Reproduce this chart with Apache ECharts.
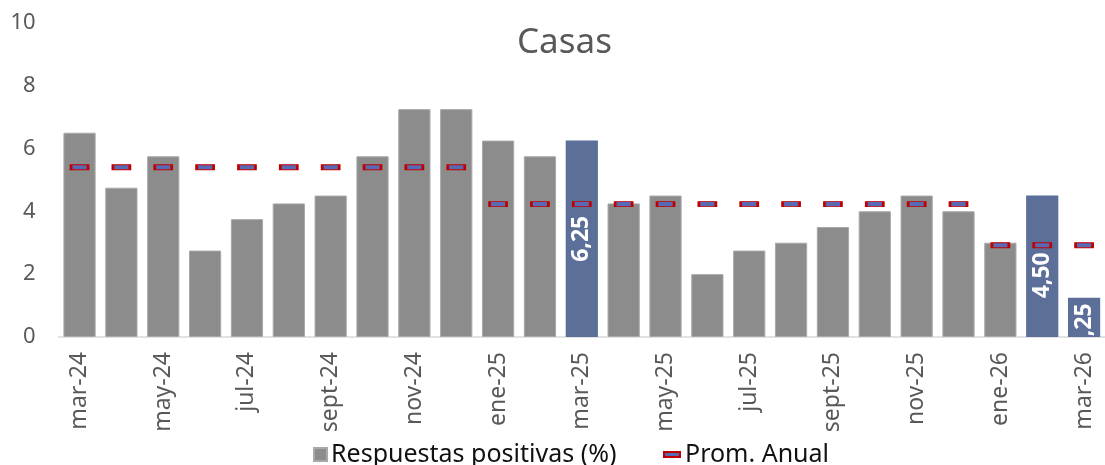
<!DOCTYPE html>
<html>
<head>
<meta charset="utf-8">
<script src="https://cdn.jsdelivr.net/npm/echarts@6/dist/echarts.min.js"></script>
<style>
  html, body { margin: 0; padding: 0; background: #fff; }
  #chart { width: 1105px; height: 465px; }
</style>
</head>
<body>
<div id="chart"></div>
<script>
// meses (etiqueta eje X)
const months = ['mar-24', 'abr-24', 'may-24', 'jun-24', 'jul-24', 'ago-24', 'sept-24', 'oct-24', 'nov-24', 'dic-24',
  'ene-25', 'feb-25', 'mar-25', 'abr-25', 'may-25', 'jun-25', 'jul-25', 'ago-25', 'sept-25', 'oct-25', 'nov-25', 'dic-25',
  'ene-26', 'feb-26', 'mar-26']
// respuestas positivas (%)
const positivas = [6.5, 4.75, 5.75, 2.75, 3.75, 4.25, 4.5, 5.75, 7.25, 7.25,
  6.25, 5.75, 6.25, 4.25, 4.5, 2.0, 2.75, 3.0, 3.5, 4.0, 4.5, 4.0,
  3.0, 4.5, 1.25]
// promedio anual
const promAnual = [5.4, 5.4, 5.4, 5.4, 5.4, 5.4, 5.4, 5.4, 5.4, 5.4,
  4.23, 4.23, 4.23, 4.23, 4.23, 4.23, 4.23, 4.23, 4.23, 4.23, 4.23, 4.23,
  2.92, 2.92, 2.92]
// barras resaltadas con etiqueta
const highlighted = ['mar-25', 'feb-26', 'mar-26']
const labelShift = { 'mar-25': 0, 'feb-26': 9, 'mar-26': 9 }

const FONT = 'Noto Sans'
const chart = echarts.init(document.getElementById('chart'))

const barData = positivas.map((v, i) => {
  const m = months[i]
  if (highlighted.indexOf(m) < 0) return v
  return {
    value: v,
    itemStyle: { color: '#5b6f98', borderWidth: 0 },
    label: {
      show: true,
      position: 'inside',
      rotate: 90,
      // texto girado: el eje x local apunta hacia arriba
      offset: [-labelShift[m], 0],
      color: '#ffffff',
      fontFamily: FONT,
      fontWeight: 'bold',
      fontSize: 23,
      formatter: p => p.value.toFixed(2).replace('.', ',')
    }
  }
})

chart.setOption({
  animation: false,
  title: {
    text: 'Casas',
    left: 512,
    top: 21,
    textStyle: { fontFamily: FONT, fontSize: 35, fontWeight: 'normal', color: '#595959' }
  },
  legend: [
    {
      data: [{ name: 'Respuestas positivas (%)', icon: 'rect' }],
      left: 308,
      top: 437,
      itemWidth: 13,
      itemHeight: 13,
      itemGap: 0,
      textStyle: { fontFamily: FONT, fontSize: 25, color: '#111111', padding: [0, 0, 0, -1] }
    },
    {
      data: [{ name: 'Prom. Anual', icon: 'rect' }],
      left: 658,
      top: 437,
      itemWidth: 16,
      itemHeight: 5,
      textStyle: { fontFamily: FONT, fontSize: 25, color: '#111111', padding: [0, 0, 0, 0] }
    }
  ],
  grid: { left: 58.6, right: -8.6, top: 22.7, bottom: 128, containLabel: false },
  xAxis: {
    type: 'category',
    data: months,
    axisLine: { lineStyle: { color: '#d9d9d9', width: 1.5 } },
    axisTick: { show: false },
    axisLabel: {
      interval: 1,
      rotate: 90,
      margin: 15,
      color: '#595959',
      fontFamily: FONT,
      fontSize: 23
    }
  },
  yAxis: {
    type: 'value',
    min: 0,
    max: 10,
    interval: 2,
    splitLine: { show: false },
    axisLine: { show: false },
    axisTick: { show: false },
    axisLabel: { margin: 23, color: '#595959', fontFamily: FONT, fontSize: 22 }
  },
  series: [
    {
      name: 'Respuestas positivas (%)',
      type: 'bar',
      barWidth: '77%',
      data: barData,
      itemStyle: { color: '#8c8c8c', borderColor: '#a9a9a9', borderWidth: 1 },
      z: 2
    },
    {
      name: 'Prom. Anual',
      type: 'line',
      data: promAnual,
      symbol: 'rect',
      symbolSize: [17, 5],
      showAllSymbol: true,
      lineStyle: { width: 0, opacity: 0 },
      itemStyle: { color: '#5a69b3', borderColor: '#c00000', borderWidth: 1.5 },
      z: 3
    }
  ]
})
</script>
</body>
</html>
